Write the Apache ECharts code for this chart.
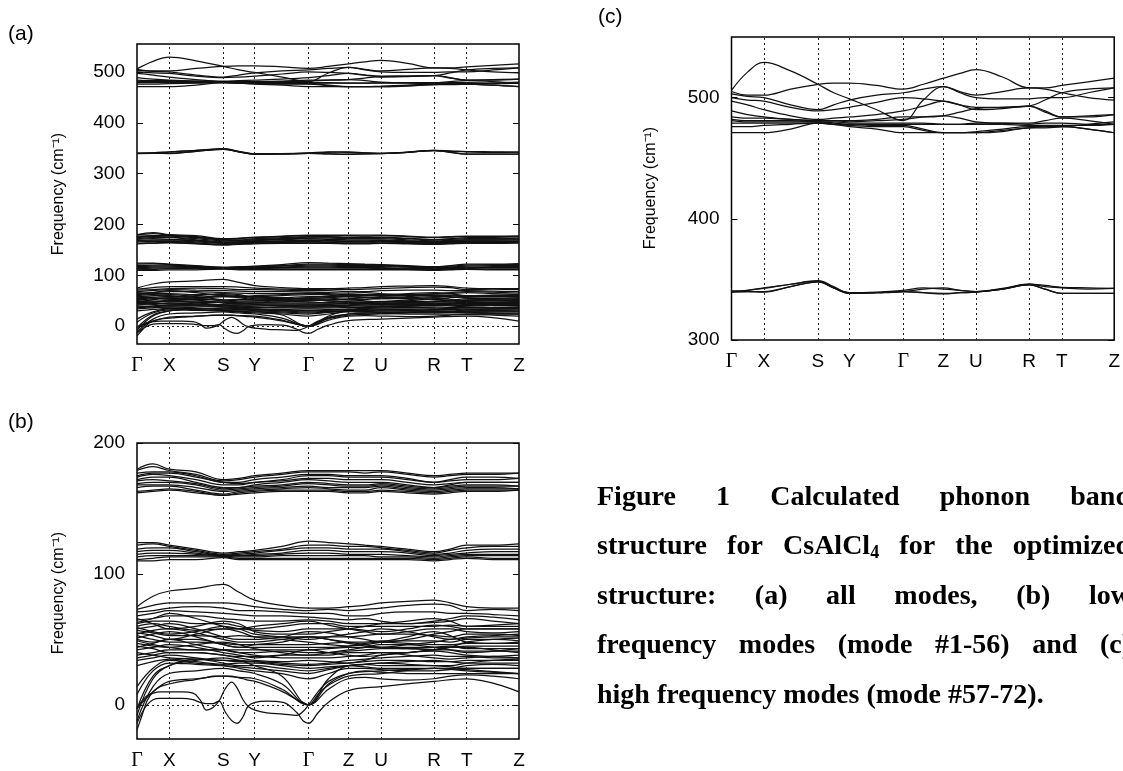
<!DOCTYPE html>
<html><head><meta charset="utf-8">
<script src="https://cdn.jsdelivr.net/npm/echarts@6/dist/echarts.min.js"></script>
<style>html,body{margin:0;padding:0;background:#fff}#c{width:1123px;height:771px}</style>
</head><body><div id="c"></div>
<script>
// ---- k-path (distance along path) ----
const kLabels = ['Γ','X','S','Y','Γ','Z','U','R','T','Z'];
const kTicks = [0, 32.3, 86.3, 117.7, 171.5, 211.5, 244, 297, 329.7, 382];
// sample points: symmetry points + segment midpoints
const kGrid = [0,16,32.3,59,86.3,102,117.7,145,171.5,191.5,211.5,228,244,270.5,297,313,329.7,356,382];
// finer sampling for the looping low branches
const kFine = [0,5,10,16,23,32.3,45,56,63,69.7,76,82,88,94.7,100,106,111,118,130,146,160,166,171.5,181,191.5,211.5,244,297,329.7,382];

// ---- tick labels ----
const yTicksA = [0,100,200,300,400,500];
const yTicksB = [0,100,200];
const yTicksC = [300,400,500];

// ---- low-frequency bands (modes 1-56), values on kGrid ----
const lowTop = [
 [180,184,180,178,172,173,175,177,179,179,179,179,179,177,175,176,177,177,177],
 [179,182,179,176,171,172,174,176,178,178,178,177,178,176,174,175,176,176,177],
 [177,178,178,175,170,170,172,174,176,176,175,175,175,173,170,172,174,174,173],
 [175,177,177,174,170,169,170,172,175,175,174,174,174,172,170,171,172,172,173],
 [174,176,175,172,168,168,170,171,173,173,172,172,172,170,168,169,170,170,170],
 [172,174,174,170,166,166,168,170,172,171,170,170,170,168,166,168,170,170,170],
 [171,172,171,169,165,166,167,168,170,169,168,168,169,167,166,167,168,168,167],
 [169,170,170,168,164,165,166,167,169,168,167,167,168,166,165,166,167,167,167],
 [168,168,168,166,163,164,165,166,167,166,166,166,167,165,164,165,166,166,165],
 [166,167,167,164,161,163,164,165,166,165,164,164,166,164,163,164,165,165,165],
 [163,164,165,163,160,162,163,164,164,164,163,163,164,163,162,163,164,164,164],
 [162,163,164,162,160,161,162,163,163,163,162,162,163,162,161,162,163,163,164]
];
const lowMid = [
 [124,124,122,119,116,117,118,121,125,124,123,122,121,119,117,119,122,122,123],
 [122,123,121,118,115,116,117,119,122,122,121,121,120,118,116,118,120,121,121],
 [119,120,120,117,114.5,115,116,118,120,120,119,119,119,117,115,116,118,119,119],
 [117,118,118,116,114,114,115,116,118,118,117,117,117,116,114,115,116,117,117],
 [115,116,116,115,114,114,114,115,116,116,115,115,115,114,113,114,115,115,115],
 [113,114,114,114,113.5,113,113,114,114,114,114,114,113,113,112,113,114,114,114],
 [111,112,113,113,113,112,112,112,112,112,112,112,112,112,111,112,113,112,112],
 [110,110,111,111,112.5,111,111,111,111,111,111,111,111,111,110,111,112,111,111]
];
const lowBottom = [
 [75,83,87,89,92,86,80,76,74,74,75,76,78,79,80,78,75,74,74],
 [73,76,78,78,78,77,75,73,72,73,72,73,74,76,77,76,72,73,72],
 [71,72,74,75,74,72,72,71,70,70,68,68,70,71,71,70,70,69,68],
 [68,70,72,71,70,69,68,68,67,66,65,66,64,62,64,66,68,67,65],
 [66,62,58,60,64,62,56,54,54,56,58,60,62,64,66,64,60,61,62],
 [65,66,68,68,66,65,64,64,65,64,62,62,62,62,63,64,66,64,62],
 [63,66,70,66,60,58,60,62,64,61,58,56,54,56,58,58,56,55,56],
 [62,64,64,62,62,60,58,60,62,62,60,60,60,60,60,61,60,60,60],
 [60,62,60,57,58,58,57,56,58,58,58,57,56,58,61,60,58,58,58],
 [59,56,54,56,60,58,54,52,50,52,54,56,58,56,52,50,52,53,54],
 [58,60,62,58,52,50,50,52,56,55,52,50,48,50,54,56,58,58,58],
 [57,55,53,53,52,53,52,52,52,52,52,53,54,54,53,52,54,54,53],
 [55,53,50,54,58,56,52,50,48,46,45,46,48,52,56,53,48,47,48],
 [54,57,58,55,50,48,48,50,52,50,47,45,44,46,48,50,51,52,52],
 [53,50,48,48,47,46,46,46,46,47,48,48,49,49,49,48,50,50,49],
 [51,54,56,52,46,44,46,48,52,50,48,46,44,43,42,44,48,50,51],
 [50,48,50,50,46,44,44,44,44,44,45,47,48,47,46,46,47,47,47],
 [49,46,44,42,42,42,42,42,42,43,44,44,44,44,44,44,45,45,45],
 [47,45,44,46,48,46,43,40,38,40,42,44,46,46,44,42,40,41,43],
 [45,43,40,40,38,37,37,38,38,38,40,40,40,40,42,42,41,41,41],
 [44,47,50,46,42,40,40,41,40,40,41,42,43,43,44,45,43,43,43],
 [42,44,46,44,40,38,36,38,42,40,38,37,38,40,42,44,44,42,40],
 [40,38,36,35,34,33,33,32,31,32,34,35,36,37,38,37,37,36,36],
 [38,40,42,42,42,40,38,36,36,36,37,38,40,38,36,35,36,37,38],
 [36,38,40,40,38,36,34,33,34,33,32,34,38,40,41,40,38,37,36],
 [34,36,38,36,34,34,33,31,30,31,32,33,34,34,33,33,34,34,34],
 [30,33,35,33,31,32,32,30,28,29,30,29,28,28,28,28,30,31,30],
 [14,28,34,32,30,28,26,24,20,24,28,28,27,26,26,27,28,28,28],
 [8,26,32,31,30,29,28,26,24,27,30,31,32,33,34,33,32,32,32],
 [-3,22,30,35,32,30,30,28,26,28,30,31,32,31,30,30,32,34,35],
 [-8,20,30,34,36,34,30,22,0,20,30,31,30,30,30,29,28,28,28],
 [-12,14,24,26,28,26,24,16,0,16,24,26,25,24,24,24,24,24,24],
 [-3,10,18,20,22,21,20,12,0,12,20,21,20,19,20,22,23,22,20]
];
// looping low branches, values on kFine
const lowLoops = [
 [-2,3,7,9,10,10,10,9,4,-4,-2,3,12,17.5,13,4,-1,-4,-6,-7,-8,-5,0,10,18,24,26,28,27,24],
 [-14,-6,0,4,5,5,5,4,2,1,1,3,-5,-12,-14,-9,-1,2,3,2,-6,-12,-14,-6,2,11,14,18,20,10],
 [-19,-8,3,10,14,16,18,19,20,21,22,22,22,22,21,20,19,18,15,10,4,2,0,8,15,22,24,28,26,24]
];

// ---- high-frequency bands (modes 57-72), values on kGrid ----
const highBands = [
 [506,521,529,522,511,504,499,490,481,498,509,504,500,499,499,500,500,504,508],
 [505,502,502,507,511,512,512,510,507,511,516,520,523,517,508,508,510,513,516],
 [503,501,500,494,490,494,498,502,504,507,509,505,502,505,508,507,504,500,498],
 [500,498,497,492,489,490,492,496,500,499,497,494,492,492,493,488,484,484,486],
 [497,494,490,485,482,483,484,486,489,493,497,494,490,491,493,489,484,485,486],
 [489,486,484,482,481,481,481,482,484,484,485,488,491,492,493,498,504,507,508],
 [484,483,483,482,481,481,480,481,482,484,485,483,480,479,479,481,483,481,478],
 [482,481,481,481,480,480,479,479,479,479,478,478,479,479,478,479,479,478,478],
 [481,480,480,480,480,479,478,478,478,478,478,478,478,478,477,477,477,477,478],
 [479,479,479,479,479,478,478,477,477,474,471,471,472,474,476,476,476,474,471],
 [476,476,477,478,479,478,477,476,476,473,471,471,471,473,475,476,476,474,471],
 [471,471,471,474,479,478,476,474,471,471,471,471,471,472,475,475,476,478,480],
 [340,341,343,346,349,344,339,339,340,342,343,341,340,342,346,344,343,342,342.5],
 [340.5,341,342.5,346,348.5,343,339,339.5,341,343,342,341,340,342.5,346,345,343.5,343,342.5],
 [340,340,340,344,348,343,338.5,339,340,339,338.5,339,339.5,342,345.5,342,338.5,338.5,338.5],
 [339.5,340,339.5,344,348,343,338.5,339,340,339,338,339,339.5,342,345.5,342,338.5,338.5,338.5]
];

// ---------------------------------------------------------
const SANS = '"Liberation Sans", Arial, sans-serif';
const SERIF = '"Liberation Serif", "DejaVu Serif", serif';
const grids = [
  {left:137, top:44, width:382, height:300},
  {left:137, top:443, width:382, height:301},
  {left:731.5, top:37, width:384, height:303}
];
const yRanges = [[-35,555,yTicksA],[-26,200,yTicksB],[300,550,yTicksC]];

function xAxisFor(g){
  return {gridIndex:g, type:'value', min:0, max:382,
    axisLine:{show:false}, axisTick:{show:false}, splitLine:{show:false},
    axisLabel:{customValues:kTicks, margin:12, color:'#000', fontSize:19, fontFamily:SANS,
      formatter:function(v){ const i = kTicks.indexOf(v); const s = i>=0 ? kLabels[i] : '';
        return s==='Γ' ? '{g|Γ}' : s; },
      rich:{g:{fontFamily:SERIF, fontSize:20, color:'#000'}}}};
}
function yAxisFor(g, side){
  const r = yRanges[g];
  return {gridIndex:g, type:'value', position:side, min:r[0], max:r[1],
    axisLine:{show:false}, splitLine:{show:false},
    axisTick:{show:true, inside:true, length:6, customValues:r[2], lineStyle:{color:'#000', width:1}},
    axisLabel:{show:side==='left', customValues:r[2], margin:12, color:'#000', fontSize:19, fontFamily:SANS}};
}

const series = [];
function addBands(bands, xs, g){
  bands.forEach(function(b){
    series.push({type:'line', xAxisIndex:g, yAxisIndex:2*g, data:b.map(function(v,i){return [xs[i], v];}),
      showSymbol:false, smooth:0.4, silent:true, clip:true,
      lineStyle:{color:'#111', width:1.25}});
  });
}
function addGuides(g, withZero){
  const d = kTicks.slice(1,-1).map(function(v){return {xAxis:v};});
  if (withZero) d.push({yAxis:0});
  series.push({type:'line', xAxisIndex:g, yAxisIndex:2*g, data:[[0,withZero?0:400]], showSymbol:false,
    lineStyle:{opacity:0}, silent:true,
    markLine:{silent:true, symbol:['none','none'], label:{show:false}, animation:false,
      lineStyle:{type:[2,3], color:'#222', width:1}, data:d}});
}
addGuides(0, true); addGuides(1, true); addGuides(2, false);
[0,1].forEach(function(g){
  addBands(lowTop, kGrid, g); addBands(lowMid, kGrid, g);
  addBands(lowBottom, kGrid, g); addBands(lowLoops, kFine, g);
});
addBands(highBands, kGrid, 0);
addBands(highBands, kGrid, 2);

// ---- caption: justified lines running past the right edge, as in the original ----
const capSize = 28, subSize = 18;
const capLeft = 597, capRight = 1131;
const ctx = document.createElement('canvas').getContext('2d');
function tw(t, size){ ctx.font = 'bold ' + size + 'px ' + SERIF; return ctx.measureText(t).width; }
const capLines = [
  {y:498, justify:true,  words:['Figure','1','Calculated','phonon','band']},
  {y:547, justify:true,  words:['structure','for','CsAlCl|4','for','the','optimized']},
  {y:597, justify:true,  words:['structure:','(a)','all','modes,','(b)','low']},
  {y:646, justify:true,  words:['frequency','modes','(mode','#1-56)','and','(c)']},
  {y:696, justify:false, words:['high frequency modes (mode #57-72).']}
];
const graphic = [];
const capStyle = {fontSize:capSize, fontWeight:'bold', fontFamily:SERIF, fill:'#000', verticalAlign:'middle', align:'left'};
capLines.forEach(function(l){
  const widths = l.words.map(function(w){
    if (w.indexOf('|')>=0){ const p=w.split('|'); return tw(p[0],capSize)+tw(p[1],subSize); }
    return tw(w, capSize); });
  let gap = 0;
  if (l.justify && l.words.length>1){
    const sum = widths.reduce(function(a,b){return a+b;},0);
    gap = (capRight - capLeft - sum)/(l.words.length-1);
  }
  let x = capLeft;
  l.words.forEach(function(w,i){
    if (w.indexOf('|')>=0){
      const p = w.split('|');
      graphic.push({type:'text', x:x, y:l.y, style:Object.assign({}, capStyle, {text:p[0]})});
      graphic.push({type:'text', x:x+tw(p[0],capSize), y:l.y+6, style:Object.assign({}, capStyle, {text:p[1], fontSize:subSize})});
    } else {
      graphic.push({type:'text', x:x, y:l.y, style:Object.assign({}, capStyle, {text:w})});
    }
    x += widths[i] + gap;
  });
});
// panel letters
[['(a)',8,34],['(b)',8,422],['(c)',598,17]].forEach(function(p){
  graphic.push({type:'text', x:p[1], y:p[2], style:{text:p[0], fontSize:21, fontFamily:SANS, fill:'#000', verticalAlign:'middle'}});
});
// y-axis titles
[[59,194],[59,593],[651,188]].forEach(function(p){
  graphic.push({type:'text', x:p[0], y:p[1], rotation:Math.PI/2,
    style:{text:'Frequency (cm⁻¹)', fontSize:16, fontFamily:SANS, fill:'#000', align:'center', verticalAlign:'middle'}});
});

const chart = echarts.init(document.getElementById('c'), null, {renderer:'canvas'});
chart.setOption({
  animation:false,
  backgroundColor:'#fff',
  grid: grids.map(function(g){return Object.assign({show:true, borderColor:'#000', borderWidth:1.5, backgroundColor:'transparent', containLabel:false}, g);}),
  xAxis:[xAxisFor(0), xAxisFor(1), xAxisFor(2)],
  yAxis:[yAxisFor(0,'left'), yAxisFor(0,'right'), yAxisFor(1,'left'), yAxisFor(1,'right'), yAxisFor(2,'left'), yAxisFor(2,'right')],
  series: series,
  graphic: graphic
});
</script></body></html>
